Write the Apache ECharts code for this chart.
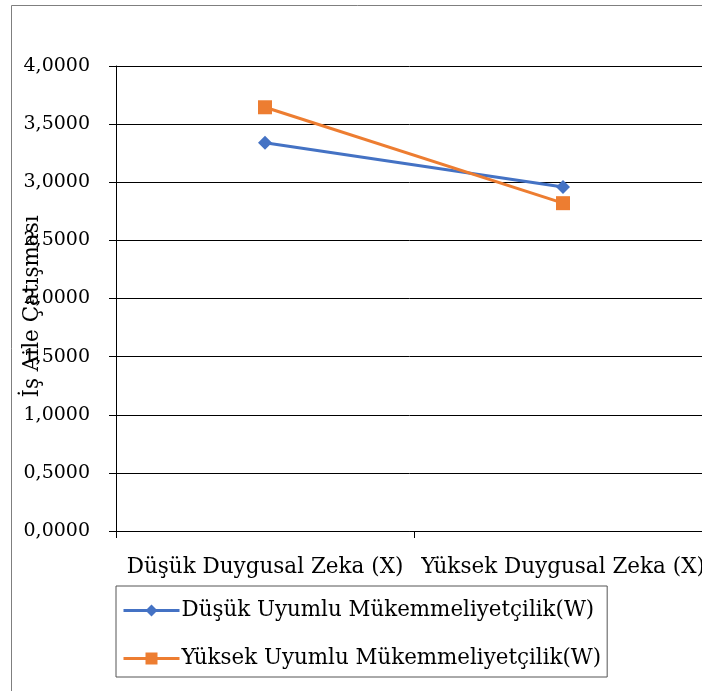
<!DOCTYPE html>
<html><head><meta charset="utf-8">
<script src="https://cdn.jsdelivr.net/npm/echarts@6/dist/echarts.min.js"></script>
<style>html,body{margin:0;padding:0;background:#fff}#c{width:702px;height:691px}</style>
</head><body><div id="c"></div>
<script>
const categories = ['Düşük Duygusal Zeka (X)', 'Yüksek Duygusal Zeka (X)'];
const seriesNames = ['Düşük Uyumlu Mükemmeliyetçilik(W)', 'Yüksek Uyumlu Mükemmeliyetçilik(W)'];
const lowW = [3.340, 2.960];
const highW = [3.645, 2.820];
const yTitle = 'İş Aile Çatışması';

const FONT = 'DejaVu Serif';
const chart = echarts.init(document.getElementById('c'));
chart.setOption({
  animation: false,
  textStyle: {fontFamily: FONT, color: '#000'},
  graphic: [{type: 'rect', shape: {x: 11.5, y: 5.5, width: 900, height: 900},
    style: {fill: 'none', stroke: '#7f7f7f', lineWidth: 1}, z: -1}],
  grid: {left: 116, top: 66, bottom: 160, right: -10, containLabel: false, outerBoundsMode: 'none'},
  xAxis: {
    type: 'category', data: categories, boundaryGap: true,
    axisLine: {lineStyle: {color: '#000', width: 1}},
    axisTick: {show: true, length: 7, lineStyle: {color: '#000'}},
    axisLabel: {interval: 0, margin: 25, fontSize: 21.5, color: '#000', fontFamily: FONT, hideOverlap: false},
    splitLine: {show: false}
  },
  yAxis: {
    type: 'value', min: 0, max: 4, interval: 0.5,
    name: yTitle, nameLocation: 'middle', nameGap: 73, nameRotate: 90, nameMoveOverlap: false,
    nameTextStyle: {fontSize: 21.5, color: '#000', fontFamily: FONT, padding: [0, 16, 0, 0]},
    axisLine: {show: true, lineStyle: {color: '#000', width: 1}},
    axisTick: {show: true, length: 7, lineStyle: {color: '#000'}},
    axisLabel: {margin: 26, fontSize: 19, color: '#000', fontFamily: FONT,
      formatter: v => v.toFixed(4).replace('.', ',')},
    splitLine: {show: true, lineStyle: {color: '#000', width: 1}}
  },
  legend: {
    orient: 'vertical', left: 116, top: 586, itemWidth: 56, itemHeight: 15, itemGap: 27,
    borderColor: '#555', borderWidth: 1, padding: [14, 6, 8, 6],
    lineStyle: {width: 3},
    textStyle: {fontSize: 21.4, color: '#000', fontFamily: FONT, padding: [0, 0, 0, -3]},
    data: seriesNames
  },
  series: [
    {name: seriesNames[0], type: 'line', data: lowW, symbol: 'diamond', symbolSize: 14,
      lineStyle: {color: '#4472C4', width: 3}, itemStyle: {color: '#4472C4'}},
    {name: seriesNames[1], type: 'line', data: highW, symbol: 'rect', symbolSize: 14,
      lineStyle: {color: '#ED7D31', width: 3}, itemStyle: {color: '#ED7D31'}}
  ]
});
</script></body></html>
